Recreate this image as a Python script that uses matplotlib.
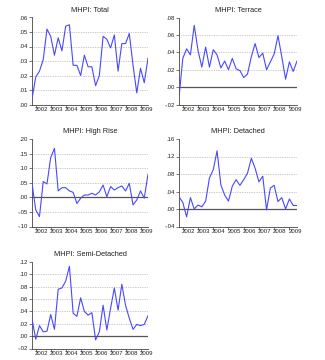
import matplotlib.pyplot as plt
import matplotlib.ticker as mticker
import numpy as np

plt.rcParams['font.family'] = ['Liberation Sans', 'DejaVu Sans']

# quarterly observations, 2001Q4 .. 2009Q3
quarters = 2001.75 + 0.25 * np.arange(32)
years = list(range(2002, 2010))

total = [.004, .019, .023, .031, .052, .047, .034, .046, .037, .054, .055, .027,
         .027, .020, .034, .026, .026, .013, .020, .047, .045, .039, .048, .023,
         .042, .042, .049, .027, .008, .025, .015, .032]
terrace = [-.012, .033, .044, .037, .071, .042, .023, .046, .023, .043, .037, .022,
           .030, .020, .033, .021, .019, .011, .015, .035, .050, .034, .039, .020,
           .029, .038, .059, .035, .009, .029, .018, .030]
high_rise = [.048, -.043, -.066, .054, .046, .136, .168, .022, .033, .033, .022, .017,
             -.021, -.003, .008, .008, .014, .008, .019, .042, .002, .037, .025, .033,
             .039, .022, .048, -.026, -.009, .022, -.003, .079]
detached = [.028, .015, -.018, .026, .000, .009, .005, .018, .071, .090, .133, .055,
            .032, .018, .052, .067, .054, .067, .082, .116, .093, .062, .075, -.002,
            .048, .054, .017, .026, .000, .023, .008, .008]
semi_detached = [.028, -.005, .017, .007, .008, .035, .011, .076, .078, .089, .113, .037,
                 .032, .062, .040, .034, .038, -.006, .007, .050, .010, .045, .078, .042,
                 .084, .050, .029, .011, .019, .017, .019, .033]

panels = [
    ("MHPI: Total", total, (0, .06), [0, .01, .02, .03, .04, .05, .06]),
    ("MHPI: Terrace", terrace, (-.02, .08), [-.02, 0, .02, .04, .06, .08]),
    ("MHPI: High Rise", high_rise, (-.10, .20), [-.10, -.05, 0, .05, .10, .15, .20]),
    ("MHPI: Detached", detached, (-.04, .16), [-.04, 0, .04, .08, .12, .16]),
    ("MHPI: Semi-Detached", semi_detached, (-.02, .12), [-.02, 0, .02, .04, .06, .08, .10, .12]),
]

# axes boxes in pixels: left, top, right, bottom
boxes = [(32, 17.5, 148, 104.5), (179, 17.5, 297, 104.5),
         (32, 139, 148, 226.5), (179, 139, 297, 226.5),
         (32, 262, 148, 348.5)]

W, H = 325, 360
fig = plt.figure(figsize=(W / 100, H / 100), dpi=100)


def fmt(v, pos):
    s = f"{v:.2f}"
    return s.replace("0.", ".", 1)


for (title, vals, ylim, yt), (l, t, r, b) in zip(panels, boxes):
    ax = fig.add_axes([l / W, 1 - b / H, (r - l) / W, (b - t) / H])
    for y in yt[1:-1]:
        if y == 0:
            ax.axhline(0, color='#555555', lw=0.9, zorder=1)
        else:
            ax.axhline(y, color='#999999', lw=0.5, ls=(0, (1, 1.5)), zorder=1)
    ax.plot(quarters, vals, color='#4848ff', lw=0.8, zorder=3)
    ax.set_xlim(quarters[0], quarters[-1])
    ax.set_ylim(*ylim)
    ax.set_yticks(yt)
    ax.yaxis.set_major_formatter(mticker.FuncFormatter(fmt))
    ax.set_xticks(years)
    ax.set_xticklabels([])
    ax.set_xticks([y + 0.37 for y in years], minor=True)
    ax.set_xticklabels([str(y) for y in years], minor=True)
    ax.tick_params(axis='x', which='major', direction='out', length=2.5, width=0.5, color='#444444')
    ax.tick_params(axis='x', which='minor', length=0, pad=1.5, labelsize=4.3, labelcolor='#222222')
    ax.tick_params(axis='y', direction='out', length=2, width=0.5, pad=1, labelsize=4.3,
                   labelcolor='#222222', color='#444444')
    for s in ('top', 'right'):
        ax.spines[s].set_visible(False)
    for s in ('left', 'bottom'):
        ax.spines[s].set_linewidth(0.6)
        ax.spines[s].set_color('#444444')
    ax.set_title(title, fontsize=5.3, pad=4, color='#222222')

fig.savefig("out.png", dpi=100)
